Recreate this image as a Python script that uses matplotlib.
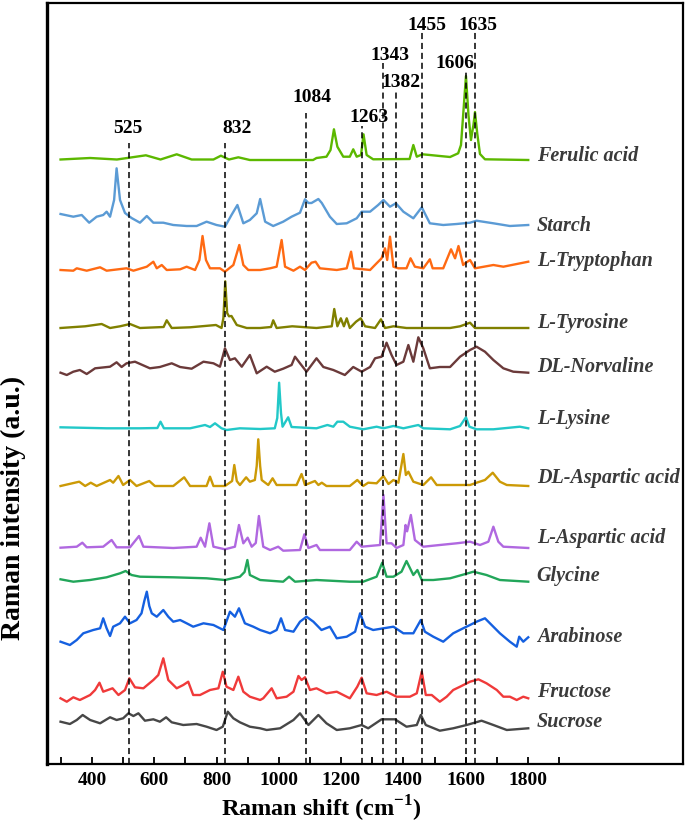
import numpy as np
import matplotlib.pyplot as plt

plt.rcParams['font.family'] = ['Liberation Serif', 'DejaVu Serif']
plt.rcParams['font.weight'] = 'bold'
plt.rcParams['mathtext.fontset'] = 'custom'
plt.rcParams['mathtext.rm'] = 'Liberation Serif:bold'

names = ['Ferulic acid', 'Starch', 'L-Tryptophan', 'L-Tyrosine', 'DL-Norvaline', 'L-Lysine',
         'DL-Aspartic acid', 'L-Aspartic acid', 'Glycine', 'Arabinose', 'Fructose', 'Sucrose']
colors = ['#5cb800', '#5b9bd5', '#ff6a13', '#808000', '#6b3a3a', '#22c8c8',
          '#cc9a06', '#b068e0', '#22a65a', '#1560e0', '#f03a3a', '#474747']
offsets = [604, 539, 494, 436, 392, 336, 278, 216, 184, 123, 66, 36]
label_y = [603, 533, 498, 436, 392, 340, 281, 221, 183, 122, 67, 37]

# marked bands: label text, dashed line position, line top
band_text = ['525', '832', '1084', '1263', '1343', '1382', '1455', '1606', '1635']
band_line = [519, 827, 1086, 1267, 1334, 1376, 1459, 1601, 1630]
band_top = [621, 621, 651, 638, 701, 674, 732, 694, 736]
band_tx = [516, 866, 1106, 1290, 1357, 1392, 1476, 1566, 1640]
band_ty = [631, 631, 662, 642, 704, 677, 734, 696, 734]

ferulic_x = [299, 394, 480, 573, 620, 672, 720, 790, 814, 840, 870, 907, 1110, 1121, 1153, 1166, 1177, 1188,
             1207, 1228, 1239, 1250, 1264, 1272, 1282, 1303, 1420, 1432, 1443, 1461, 1485, 1517, 1550, 1576,
             1585, 1592, 1601, 1609, 1617, 1625, 1630, 1637, 1646, 1662, 1801]
ferulic_y = [0.5, 2, 0.5, 4.7, 0.5, 5.7, 0.5, 0.5, 4.3, 0.5, 2.7, 0, 0, 2, 3.3, 10, 30.7, 13.3,
             3.3, 3.3, 10.7, 3.3, 5, 25.7, 5, 0.7, 1, 15, 3.3, 5.7, 5, 4, 3, 6.7,
             15, 45, 84, 45, 20, 35, 48, 27, 6, 0.7, 0]

starch_x = [299, 340, 367, 391, 415, 436, 447, 458, 471, 479, 490, 506, 527, 554, 576, 597, 629, 661, 704,
            736, 768, 800, 827, 848, 867, 886, 907, 929, 940, 956, 982, 1014, 1041, 1068, 1084, 1095, 1105,
            1116, 1127, 1138, 1164, 1186, 1218, 1250, 1266, 1293, 1319, 1336, 1357, 1376, 1400, 1432, 1459,
            1485, 1528, 1571, 1614, 1635, 1689, 1742, 1801]
starch_y = [11, 8.3, 10, 2.3, 8.3, 10, 13.3, 8.3, 25, 56.7, 25, 12, 7, 2.3, 9, 2.3, 2.3, 0, -1,
            -1, 3.3, 0, -1.7, 10, 20, 1.7, 5, 11.7, 26, 3.3, -1, 3.3, 8.3, 12.3, 25.7, 22, 22,
            24, 26, 22, 8.3, 1, 1.7, 6.7, 13.3, 13.3, 20, 25, 18.3, 21.7, 13.3, 6.7, 17.7,
            1.7, 0, 1, 2.3, 4.3, 1.7, -1, 0]

trp_x = [299, 340, 351, 383, 426, 447, 511, 533, 576, 597, 608, 624, 640, 683, 704, 731, 745, 755, 766,
         779, 811, 827, 854, 873, 886, 902, 940, 972, 993, 1009, 1020, 1047, 1068, 1084, 1105, 1118, 1132,
         1186, 1218, 1232, 1241, 1293, 1314, 1330, 1341, 1348, 1357, 1368, 1384, 1410, 1423, 1437, 1464,
         1485, 1494, 1528, 1553, 1566, 1577, 1592, 1598, 1614, 1630, 1689, 1721, 1801]
trp_y = [0, -0.7, 1.7, -0.7, 2.7, -0.7, 1.7, -0.7, 3.3, 8.3, 1.7, 5, 0, 0.7, 3.3, 0, 10, 34, 10,
         1.7, 1.7, -1.7, 5, 25, 5, 0, 0, 1.7, 3.3, 30, 3.3, -0.7, 3.3, 0, 7.3, 8.3, 1.7,
         0, 1.7, 18.3, 1.7, 0, 6.7, 11.7, 21.7, 10, 33.3, 3.3, 1.7, 1.7, 11.7, 3.3, 1.7,
         10.7, 1.7, 1.7, 20.7, 11.7, 24, 5, 6.7, 10, 1.7, 5, 3.3, 8.3]

tyr_x = [299, 378, 431, 458, 490, 522, 554, 630, 640, 656, 715, 798, 816, 822, 828, 834, 840, 848, 865,
         897, 940, 975, 982, 993, 1043, 1121, 1170, 1178, 1188, 1199, 1209, 1218, 1228, 1248, 1263, 1277,
         1309, 1328, 1341, 1368, 1410, 1550, 1582, 1614, 1630, 1801]
tyr_y = [0, 1.7, 4, 0, 1.7, 4, 0, 1, 7.7, 0, 0.7, 3, 0, 10, 46.7, 15, 11.7, 12, 3,
         0, 0, 1, 7.7, 0, 1.7, 0, 1.7, 19, 1.7, 9.7, 1.7, 9.7, 0, 6.3, 9.7, 1.7,
         0, 8.7, 0, 1.7, 0, 0, 1.7, 5.3, 0, 0]

norv_x = [299, 319, 340, 361, 383, 394, 410, 458, 479, 495, 511, 538, 586, 618, 656, 683, 720, 758, 790,
          811, 827, 843, 859, 881, 907, 929, 961, 987, 1014, 1041, 1052, 1068, 1089, 1121, 1143, 1175,
          1212, 1239, 1266, 1293, 1309, 1330, 1346, 1362, 1378, 1400, 1416, 1432, 1448, 1464, 1485, 1517,
          1550, 1582, 1614, 1635, 1662, 1689, 1721, 1753, 1801]
norv_y = [-0.7, -3, 0.3, 2, -2, 0.3, 3.7, 5.3, 9.7, 5, 8.7, 10.3, 3.7, 5, 8.7, 5, 3.3, 10.3, 8.7,
          5.3, 23.7, 12, 13.7, 5.3, 17, -1.3, 5.3, 0.3, 3.3, 7, 15.3, 8.7, 0.3, 13.7, 5, 2,
          -3, 5, 0.3, 5, 13.7, 15.3, 29.3, 17, 7, 10.3, 27, 10.3, 34.7, 23.7, 3.7, 5,
          5, 15.3, 22, 25.3, 20.3, 12, 3.7, 0.3, -0.7]

lys_x = [299, 447, 554, 610, 620, 631, 715, 763, 779, 795, 816, 832, 875, 940, 987, 995, 1001, 1007, 1012,
         1030, 1041, 1121, 1156, 1175, 1188, 1207, 1228, 1271, 1314, 1336, 1368, 1400, 1448, 1464, 1550,
         1582, 1601, 1612, 1635, 1689, 1774, 1801]
lys_y = [0.7, -0.3, -0.3, 0, 6.3, -0.3, -0.3, 3, 1, 4.7, -0.3, -2, -0.3, -1, -0.3, 10, 45.3, 15, 1.3,
         10.7, 1, -0.3, 3, 1.3, 6.3, 6.3, 1.3, -1.3, 1.3, -0.3, 2, -0.3, 3, -0.3, -1.3,
         2, 10.7, 1.3, -1.3, -1.3, 1.3, -0.3]

dlasp_x = [299, 359, 378, 396, 415, 458, 468, 485, 500, 522, 543, 584, 602, 661, 696, 715, 768, 779, 790,
           827, 850, 857, 865, 875, 895, 907, 923, 929, 934, 940, 945, 966, 980, 993, 1057, 1073, 1084,
           1116, 1127, 1138, 1153, 1228, 1252, 1271, 1287, 1314, 1336, 1352, 1368, 1384, 1400, 1408, 1416,
           1432, 1464, 1489, 1507, 1614, 1635, 1662, 1687, 1710, 1732, 1801]
dlasp_y = [0, 4.3, 0, 3.3, 0, 6, 3.3, 10, 1, 6, 0, 5, 0, 0, 8.7, 0, 0, 9.3, 0,
           0, 5, 21, 5, 1, 8.7, 4.3, 6, 20, 46.7, 20, 6, 1, 7.7, 1, 1, 12, 1,
           5, 1, 3.3, 0, 0, 6, 0, 3.3, 2.7, 10, 2, 6, 3.3, 32, 11, 14.3,
           4.3, 1, 8.7, 1, 1, 3.3, 6, 13.3, 4.3, 1, 0]

lasp_x = [299, 351, 369, 383, 436, 463, 479, 522, 551, 565, 661, 736, 749, 763, 777, 790, 827, 859, 872,
          886, 900, 913, 926, 936, 950, 972, 998, 1014, 1068, 1082, 1095, 1121, 1132, 1228, 1250, 1266,
          1325, 1336, 1346, 1362, 1378, 1400, 1407, 1412, 1424, 1437, 1464, 1517, 1571, 1614, 1646, 1673,
          1689, 1705, 1721, 1801]
lasp_y = [0.3, 1.3, 5.3, 0.7, 1.3, 8, 0.7, 0.7, 12, 1.3, 0, 1.3, 10.3, 1.3, 24.7, 1.3, -1.3, 1.3, 23,
          4.7, 10.3, 1.3, 5, 32, 1.3, -2, 1.3, -2.7, -2, 13.7, 0, 3, -2, -2, 6.3, 1.3,
          3, 53, 4.7, 4.7, 0, 3, 23, 16.7, 33, 8, 1.3, 3, 4.7, 6.3, 3, 6.3,
          21.3, 6.3, 1.3, 0]

gly_x = [299, 340, 394, 447, 490, 508, 527, 554, 661, 768, 827, 875, 890, 899, 907, 940, 1014, 1033, 1052,
         1121, 1228, 1271, 1314, 1332, 1346, 1368, 1394, 1410, 1432, 1445, 1459, 1496, 1550, 1614, 1625,
         1667, 1710, 1801]
gly_y = [0.7, -1.7, 0, 2.7, 6.7, 9, 5, 3.3, 2.7, 1.7, 0, 3.3, 8, 20, 5, 0, -1.7, 3.3, -1.7,
         0, -1.7, -1.7, 3.3, 17.3, 3.3, 3.3, 8.3, 19, 5, 10, 0, 0, 1.7, 7.3, 8.3,
         5, 0, -1.7]

ara_x = [299, 329, 351, 372, 404, 426, 436, 447, 458, 468, 490, 506, 522, 543, 559, 568, 576, 584, 592,
         608, 629, 645, 661, 683, 704, 725, 758, 790, 822, 843, 859, 872, 891, 918, 940, 972, 993, 1007,
         1020, 1047, 1068, 1089, 1111, 1137, 1164, 1186, 1218, 1245, 1261, 1277, 1303, 1336, 1368, 1400,
         1432, 1456, 1469, 1496, 1528, 1560, 1592, 1614, 1635, 1662, 1678, 1710, 1742, 1764, 1772, 1785,
         1801]
ara_y = [-0.7, -4, 1, 7.7, 11, 12.7, 22.7, 12.7, 5, 14.3, 17.7, 24.3, 17.7, 21, 27.7, 40, 49.3, 35, 27.7,
         24.3, 31, 24.3, 19.3, 21, 17.7, 14.3, 17.7, 16, 11, 29.3, 24.3, 32.7, 17.7, 14.3, 11, 7.7, 11, 22.7,
         11, 9.3, 19.3, 24.3, 19.3, 11, 14.3, 2.7, 4.3, 9.3, 27.7, 14.3, 11, 12.7, 14.3, 7.7,
         7.7, 21, 9.3, 4.3, -0.7, 7.7, 12.7, 16, 19.3, 22.7, 17.7, 7.7, -0.7, -5.7, 4.3, -0.7,
         3.7]

fru_x = [299, 319, 340, 361, 394, 410, 424, 436, 466, 485, 506, 520, 538, 565, 597, 613, 629, 645, 672,
         693, 709, 725, 747, 779, 806, 820, 832, 854, 870, 886, 907, 940, 950, 977, 993, 1025, 1047, 1063,
         1073, 1084, 1100, 1121, 1153, 1186, 1228, 1252, 1266, 1282, 1314, 1346, 1378, 1421, 1443, 1459,
         1472, 1491, 1517, 1539, 1560, 1582, 1614, 1641, 1667, 1700, 1721, 1742, 1764, 1785, 1801]
fru_y = [-0.3, -3.7, 0.7, -2, 3, 8, 15.3, 6.3, 9.7, 3, 8, 19.7, 10.7, 9.7, 18, 23, 39.7, 18, 9.7,
         13, 16.3, 3, 3, 8, 9.7, 26.3, 11.3, 8, 21.3, 6.3, 1.3, -2, -0.3, 9.7, -0.3, 1.3, 6.3, 22,
         18, 20.7, 8, 9.7, 4.7, 6.3, -0.3, 11.3, 20.3, 4.7, 3, 6.3, 1.3, 1.3, 4.7, 26.3,
         3, 3, -3.7, 1.3, 8, 11.3, 16.3, 18.7, 14.7, 8, 1.3, 1.3, -2, 1.3, -0.3]

suc_x = [299, 329, 351, 370, 394, 426, 458, 479, 500, 517, 533, 549, 570, 597, 618, 638, 656, 693, 736,
         768, 800, 820, 836, 854, 875, 907, 940, 961, 1004, 1047, 1068, 1095, 1127, 1153, 1186, 1228,
         1266, 1287, 1330, 1373, 1410, 1443, 1456, 1472, 1517, 1560, 1603, 1651, 1689, 1732, 1801]
suc_y = [6.3, 4, 8, 13, 8, 4.7, 10.7, 8, 9.7, 14.7, 12, 14.7, 7.3, 8.7, 6.3, 10.7, 5.7, 3, 4,
         1.3, -2, 1.3, 16.3, 9.7, 5.7, 1.3, -0.3, -2, -0.3, 8, 14.7, 3, 13, 4.7, -2, -0.3,
         3, -0.3, 8.7, 8.7, 1.3, 3, 13, 3, -2.7, -0.3, 3, 7.3, 3, -2, -0.3]

spectra = [(ferulic_x, ferulic_y), (starch_x, starch_y), (trp_x, trp_y), (tyr_x, tyr_y),
           (norv_x, norv_y), (lys_x, lys_y), (dlasp_x, dlasp_y), (lasp_x, lasp_y),
           (gly_x, gly_y), (ara_x, ara_y), (fru_x, fru_y), (suc_x, suc_y)]

fig = plt.figure(figsize=(6.89, 8.26), dpi=100)
ax = fig.add_axes([47/689, 1-764/826, 636/689, 761/826])

for (x, y), off, c in zip(spectra, offsets, colors):
    ax.plot(x, np.array(y) + off, color=c, lw=1.7)

for name, ly in zip(names, label_y):
    ax.text(1828, ly, name, color='#3a3a3a', fontsize=14.5, style='italic', weight='bold',
            ha='left', va='baseline')

ax.vlines(band_line, 0, band_top, colors='k', linestyles=(0, (4, 2.5)), lw=1.1)
for t, tx, ty in zip(band_text, band_tx, band_ty):
    ax.text(tx, ty, t, fontsize=14, weight='bold', ha='center', va='baseline')

ax.set_xlim(255.5, 2298)
ax.set_ylim(0, 761)
ax.set_xticks(range(400, 1801, 200))
ax.set_xticks(range(300, 1901, 200), minor=True)
ax.set_yticks([])
ax.tick_params(axis='x', which='both', direction='in', length=5, width=1.3, labelsize=14, pad=6)
for s in ax.spines.values():
    s.set_linewidth(1.6)
ax.spines['left'].set_linewidth(2.4)

fig.text(321/689, 1-817/826, 'Raman shift (cm$^{-1}$)', fontsize=17.5, weight='bold',
         ha='center', va='baseline')
fig.text(13/689, 1-508/826, 'Raman intensity (a.u.)', fontsize=20, weight='bold',
         ha='center', va='center', rotation=90)

plt.savefig('out.png', dpi=100)
